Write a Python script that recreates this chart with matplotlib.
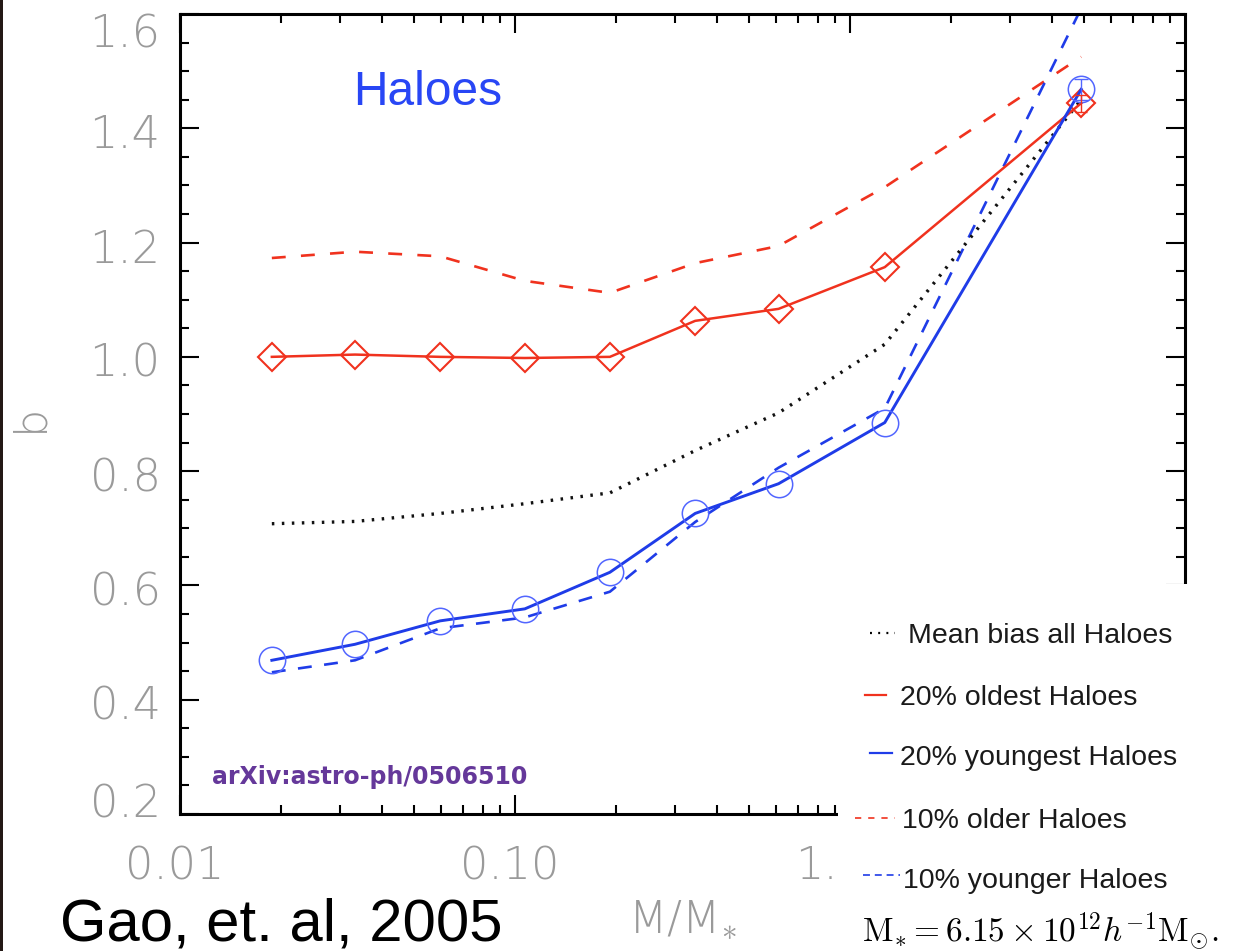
import matplotlib
matplotlib.use("Agg")
import matplotlib.pyplot as plt
from matplotlib.lines import Line2D
from matplotlib.patches import Rectangle
from matplotlib.transforms import ScaledTranslation
from matplotlib.ticker import FixedLocator, FixedFormatter, MultipleLocator, LogLocator, NullFormatter

plt.rcParams['lines.scale_dashes'] = False
plt.rcParams['mathtext.fontset'] = 'cm'

# ---- data: halo bias vs. mass (in units of M*) ----
mass_ratio = [0.0188, 0.0333, 0.0598, 0.107, 0.192, 0.345, 0.612, 1.27, 4.9]
bias_mean = [0.708, 0.712, 0.726, 0.743, 0.762, 0.836, 0.902, 1.022, 1.450]
bias_oldest20 = [1.000, 1.004, 1.000, 0.998, 1.000, 1.063, 1.084, 1.157, 1.444]
bias_youngest20 = [0.469, 0.497, 0.538, 0.559, 0.623, 0.726, 0.778, 0.885, 1.468]
bias_older10 = [1.173, 1.184, 1.176, 1.133, 1.112, 1.164, 1.194, 1.297, 1.525]
bias_younger10 = [0.448, 0.469, 0.525, 0.544, 0.589, 0.711, 0.806, 0.910, 1.610]
err_youngest_last = 0.018
err_oldest_last = 0.015

xtick_values = [0.01, 0.1, 1.0]
xtick_labels = ['0.01', '0.10', '1.00']
ytick_values = [0.2, 0.4, 0.6, 0.8, 1.0, 1.2, 1.4, 1.6]
ytick_labels = ['0.2', '0.4', '0.6', '0.8', '1.0', '1.2', '1.4', '1.6']

legend_labels = ['Mean bias all Haloes', '20% oldest Haloes', '20% youngest Haloes',
                 '10% older Haloes', '10% younger Haloes']

RED = '#f0321e'
BLUE = '#1f3ce8'
BLUE_LIGHT = '#5266ff'
GRAY = '#9a9a9a'

W, H = 1251, 951
fig = plt.figure(figsize=(W / 100, H / 100), dpi=100)


def fx(px):
    return px / W


def fy(py):
    return 1 - py / H


def px_shift(dx, dy):
    # offset in screen pixels (dy positive = downwards)
    return ScaledTranslation(dx / 100, -dy / 100, fig.dpi_scale_trans)


ax = fig.add_axes([fx(180), fy(814), 1005 / W, 800 / H])
ax.set_xscale('log')
ax.set_xlim(0.01, 10)
ax.set_ylim(0.2, 1.6)

# curves
ax.plot(mass_ratio, bias_older10, color=RED, lw=1.9, ls=(0, (10, 11)), zorder=2)
ax.plot(mass_ratio, bias_younger10, color=BLUE, lw=1.9, ls=(0, (10, 9)), zorder=2)
ax.plot(mass_ratio, bias_mean, color='#111111', lw=2.4, ls=(0, (1.8, 5.4)), zorder=3)
ax.plot(mass_ratio, bias_oldest20, color=RED, lw=1.8, zorder=4,
        marker='D', ms=14, mfc='none', mec=RED, mew=1.5)
ax.plot(mass_ratio, bias_youngest20, color=BLUE, lw=2.1, zorder=4)
ax.plot(mass_ratio, bias_youngest20, ls='none', zorder=5,
        marker='o', ms=19, mfc='none', mec=BLUE_LIGHT, mew=1.1)
ax.errorbar(mass_ratio[-1], bias_youngest20[-1], yerr=err_youngest_last, fmt='none',
            ecolor=BLUE_LIGHT, elinewidth=1.0, capsize=5, capthick=1.0, zorder=5)
ax.errorbar(mass_ratio[-1], bias_oldest20[-1], yerr=err_oldest_last, fmt='none',
            ecolor=RED, elinewidth=1.0, capsize=4, capthick=1.0, zorder=5)

# axes styling
for sp in ax.spines.values():
    sp.set_linewidth(2.2)
ax.yaxis.set_major_locator(FixedLocator(ytick_values))
ax.yaxis.set_major_formatter(FixedFormatter(ytick_labels))
ax.yaxis.set_minor_locator(MultipleLocator(0.05))
ax.xaxis.set_major_locator(FixedLocator(xtick_values))
ax.xaxis.set_major_formatter(FixedFormatter(xtick_labels))
ax.xaxis.set_minor_locator(LogLocator(base=10, subs=range(2, 10)))
ax.xaxis.set_minor_formatter(NullFormatter())
ax.tick_params(which='both', direction='in', top=True, right=True, color='black')
ax.tick_params(which='major', length=13.5, width=1.5)
ax.tick_params(which='minor', length=6.5, width=1.5)
ax.tick_params(axis='y', which='major', pad=14)
ax.tick_params(axis='x', which='major', pad=23)
tick_font = dict(family='DejaVu Sans', weight='light', size=32, color=GRAY)
for lab in ax.get_xticklabels() + ax.get_yticklabels():
    lab.set_fontfamily(tick_font['family'])
    lab.set_fontweight(tick_font['weight'])
    lab.set_fontsize(tick_font['size'])
    lab.set_color(GRAY)

# end labels of the y axis are pulled inside the frame
yticks = ax.yaxis.get_major_ticks()
for i, t in enumerate(yticks):
    dy = 3
    if i == 0:
        dy = -14
    elif i == len(yticks) - 1:
        dy = 16
    t.label1.set_transform(t.label1.get_transform() + px_shift(0, dy))
for t in ax.xaxis.get_major_ticks():
    t.label1.set_transform(t.label1.get_transform() + px_shift(-5, 0))

ax.set_ylabel('b', **tick_font)
ax.yaxis.label.set_va('center')
ax.yaxis.set_label_coords(-0.149, 0.495)
ax.set_xlabel(r'M/M$_{\ast}$', **tick_font)
ax.xaxis.label.set_va('top')
ax.xaxis.set_label_coords(0.5, -0.105)

ax.text(fx(353), fy(105), 'Haloes', transform=fig.transFigure, ha='left', va='baseline',
        family='Liberation Sans', size=34.5, color='#2846f5')
ax.text(fx(212), fy(784), 'arXiv:astro-ph/0506510', transform=fig.transFigure,
        ha='left', va='baseline', family='DejaVu Sans', weight='bold', size=17,
        color='#65389a')

# white panel holding the key
fig.add_artist(Rectangle((fx(838), 0), 1 - fx(838), fy(584), transform=fig.transFigure,
                         facecolor='white', edgecolor='none', zorder=5))

handles = [
    dict(x=(870, 895), y=633, color='black', lw=1.6, ls=(0, (1.4, 4.5))),
    dict(x=(865, 886), y=695, color=RED, lw=1.6, ls='-'),
    dict(x=(870, 892), y=753, color=BLUE, lw=1.6, ls='-'),
    dict(x=(855, 895), y=818, color=RED, lw=1.2, ls=(0, (4.5, 5))),
    dict(x=(863, 900), y=875, color=BLUE, lw=1.2, ls=(0, (5, 3.5))),
]
text_pos = [(908, 643), (900, 705), (900, 765), (902, 828), (903, 888)]
for h, lab, (tx, ty) in zip(handles, legend_labels, text_pos):
    fig.add_artist(Line2D([fx(h['x'][0]), fx(h['x'][1])], [fy(h['y']), fy(h['y'])],
                          transform=fig.transFigure, color=h['color'], lw=h['lw'],
                          ls=h['ls'], zorder=6))
    fig.text(fx(tx), fy(ty), lab, ha='left', va='baseline', family='Liberation Sans',
             size=20.5, color='#1a1a1a', zorder=6)

fig.text(fx(862), fy(942), r'$\mathrm{M}_{*} = 6.15\times10^{12}h^{-1}\mathrm{M}_{\odot}.$',
         ha='left', va='baseline', size=24, color='black', zorder=6)

fig.text(fx(60), fy(940), 'Gao, et. al, 2005', ha='left', va='baseline',
         family='Liberation Sans', size=43, color='black', zorder=6)

# dark left border
fig.add_artist(Rectangle((0, 0), fx(3), 1, transform=fig.transFigure,
                         facecolor='#231815', edgecolor='none', zorder=7))

fig.savefig('out.png', dpi=100)
